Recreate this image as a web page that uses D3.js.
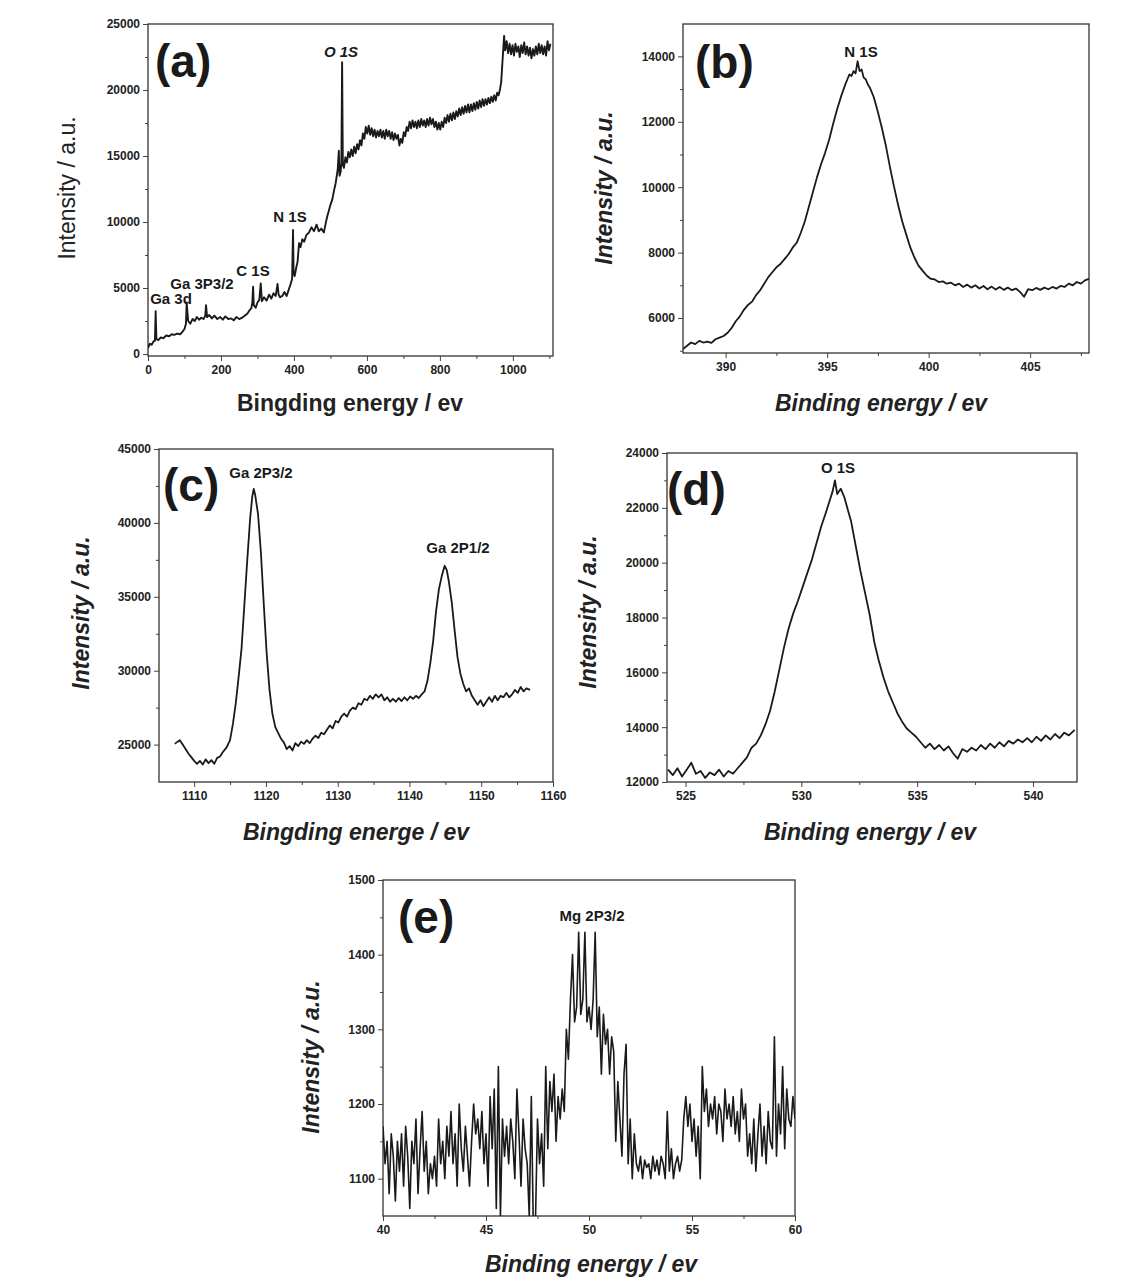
<!DOCTYPE html>
<html>
<head>
<meta charset="utf-8">
<script src="https://cdn.jsdelivr.net/npm/d3@7"></script>
<style>
body { margin: 0; background: #fff; }
svg text { font-family: "Liberation Sans", Arial, sans-serif; }
</style>
</head>
<body>
<svg width="1135" height="1277"></svg>
<script>
// ---- (a) survey spectrum
var aX = [0,5,10,15,19,21,23,28,35,42,50,58,65,72,80,88,95,100,104,106,110,116,122,128,134,140,146,152,157,159,162,168,175,182,190,198,205,212,220,228,235,242,250,258,265,272,278,283,286,288,290,295,300,305,309,312,318,325,332,338,344,350,355,358,362,368,374,380,386,391,395,397.5,399,402,406,410,414,418,423,428,434,441,448,455,462,468,475,482,487,491,496,500,505,510,514,518,520,523,525,528,530,532,534,537,
  541,545,549,553,557,561,565,569,573,577,581,585,589,593,597,601,605,609,613,617,621,625,629,633,637,641,645,649,653,657,661,665,669,673,677,681,685,689,693,697,701,705,709,713,717,721,725,729,733,737,741,745,749,753,757,761,765,769,773,777,781,785,789,793,797,801,805,809,813,817,821,825,829,833,837,841,845,849,853,857,861,865,869,873,877,881,885,889,893,897,901,905,909,913,917,921,925,929,933,937,941,945,949,953,957,961,965,968,970,973,976,
  979,983,987,991,995,999,1003,1007,1011,1015,1019,1023,1027,1031,1035,1039,1043,1047,1051,1055,1059,1063,1067,1071,1075,1079,1083,1087,1091,1095,1099,1103];
var aY = [450,780,700,950,1000,3250,1150,1050,1250,1200,1400,1350,1500,1450,1550,1500,1700,1900,2300,3900,2500,2300,2650,2500,2800,2600,2750,2650,2900,3700,2800,2950,2700,2900,2650,2800,2600,2850,2650,2700,2550,2800,2650,2750,2900,3050,3300,3450,3900,5100,3700,3500,3900,4100,5350,4000,4300,4050,4500,4200,4600,4400,5300,4500,4300,4400,4700,4400,4900,5300,5700,9400,6200,5900,6500,7000,8400,8100,8700,8500,9000,9200,9600,9300,9800,9300,9500,9200,9900,10400,10900,11300,11700,12400,12900,13600,14000,15400,13500,13800,14500,22100,14400,14100,
  14900,14500,15300,14900,15500,15000,15700,15200,15900,15500,16200,15800,16700,16300,17200,16700,17300,16600,17100,16500,17000,16400,16900,16500,17000,16400,16900,16300,17000,16500,16900,16300,16800,16200,16700,16300,16600,15800,16300,16000,16800,16500,17200,16900,17600,17100,17700,17200,17600,17100,17700,17200,17800,17300,17700,17200,17800,17300,17900,17400,17800,17200,17600,17000,17500,17000,17600,17200,17900,17500,18100,17600,18200,17700,18300,17800,18400,18000,18600,18100,18700,18200,18800,18300,18900,18300,18900,18400,19000,18500,19100,18600,19200,18700,19300,18800,19300,18900,19400,19000,19500,19100,19600,19200,19800,19600,20100,20600,21500,22800,24100,
  23000,23700,22800,23500,22700,23400,22600,23500,22900,23300,22500,23400,22800,23600,22700,23300,22600,23200,22400,23100,22600,23300,22700,23500,22800,23400,22700,23300,22600,23700,23000,23500];
var aXTicks = [0,200,400,600,800,1000], aXMinor = [100,300,500,700,900,1100];
var aYTicks = [0,5000,10000,15000,20000,25000], aYMinor = [2500,7500,12500,17500,22500];
var aPeaks = ["O 1S","N 1S","C 1S","Ga 3P3/2","Ga 3d"];

// ---- (b) N 1s
var bX = [387.9,388.1,388.3,388.5,388.7,388.9,389.1,389.3,389.5,389.7,389.9,390.1,390.3,390.5,390.7,390.9,391.1,391.3,391.5,391.7,391.9,392.1,392.3,392.5,392.7,392.9,393.1,393.3,393.5,393.7,393.9,394.1,394.3,394.5,394.7,394.9,395.1,395.3,395.5,395.7,395.9,396.0,396.1,396.2,396.3,396.4,396.5,396.6,396.7,396.8,396.9,397.0,397.1,397.3,397.5,397.7,397.9,398.1,398.3,398.5,398.7,398.9,399.1,399.3,399.5,399.7,399.9,400.1,400.3,400.5,400.7,400.9,401.1,401.3,401.5,401.7,401.9,402.1,402.3,402.5,402.7,402.9,403.1,403.3,403.5,403.7,403.9,404.1,404.3,404.5,404.7,404.9,405.1,405.3,405.5,405.7,405.9,406.1,406.3,406.5,406.7,406.9,407.1,407.3,407.5,407.7,407.9];
var bY = [5050,5150,5250,5200,5300,5250,5280,5240,5350,5400,5450,5550,5700,5900,6050,6250,6400,6500,6700,6850,7050,7250,7400,7550,7650,7800,7950,8150,8300,8600,8950,9400,9850,10300,10700,11050,11450,11950,12400,12800,13150,13300,13450,13400,13550,13480,13850,13550,13600,13350,13300,13150,13050,12750,12300,11800,11250,10600,10000,9450,8950,8550,8150,7850,7600,7450,7300,7200,7180,7100,7120,7050,7080,7000,7050,6950,7020,6930,7000,6900,6980,6880,6960,6870,6950,6860,6930,6850,6900,6800,6650,6880,6850,6920,6860,6930,6880,6950,6900,6980,6950,7050,7000,7100,7050,7150,7200];
var bXTicks = [390,395,400,405], bXMinor = [392.5,397.5,402.5,407.5];
var bYTicks = [6000,8000,10000,12000,14000], bYMinor = [5000,7000,9000,11000,13000];
var bPeaks = ["N 1S"];

// ---- (c) Ga 2p
var cX = [1107.3,1107.7,1108.0,1108.4,1108.8,1109.2,1109.6,1110.0,1110.4,1110.8,1111.2,1111.6,1112.0,1112.4,1112.8,1113.2,1113.6,1114.0,1114.5,1115.0,1115.4,1115.8,1116.2,1116.6,1117.0,1117.4,1117.8,1118.1,1118.3,1118.5,1118.9,1119.3,1119.7,1120.1,1120.5,1120.9,1121.3,1121.7,1122.1,1122.5,1122.9,1123.3,1123.7,1124.1,1124.5,1124.9,1125.3,1125.7,1126.1,1126.5,1126.9,1127.3,1127.7,1128.1,1128.5,1128.9,1129.3,1129.7,1130.1,1130.5,1130.9,1131.3,1131.7,1132.1,1132.5,1132.9,1133.3,1133.7,1134.1,1134.5,1134.9,1135.3,1135.7,1136.1,1136.5,1136.9,1137.3,1137.7,1138.1,1138.5,1138.9,1139.3,1139.7,1140.1,1140.5,1140.9,1141.3,1141.7,1142.1,1142.5,1142.9,1143.3,1143.7,1144.1,1144.5,1144.9,1145.2,1145.5,1145.9,1146.3,1146.7,1147.1,1147.5,1147.9,1148.3,1148.7,1149.1,1149.5,1149.9,1150.3,1150.7,1151.1,1151.5,1151.9,1152.3,1152.7,1153.1,1153.5,1153.9,1154.3,1154.7,1155.1,1155.5,1155.9,1156.3,1156.8];
var cY = [25050,25200,25300,25000,24700,24400,24150,23900,23700,23900,23650,24000,23750,23950,23700,24100,24200,24500,24800,25300,26400,27800,29600,31500,34500,37500,40300,41800,42300,41900,40600,38000,34500,31200,28700,27100,26200,25800,25400,25150,24700,24900,24600,25100,24900,25200,25050,25300,25100,25400,25600,25450,25800,25700,26000,26300,26100,26600,26500,26900,27100,26900,27300,27500,27400,27800,27700,28100,28000,28300,28100,28400,28200,28400,28000,28200,27900,28100,27900,28150,27950,28200,28000,28250,28100,28300,28150,28400,28600,29300,30500,32000,34000,35500,36400,37100,36800,36000,34600,32700,30900,29800,29100,28600,28800,28300,28000,27700,28000,27600,27900,28200,27900,28300,28000,28300,28200,28500,28200,28400,28700,28500,28900,28600,28800,28700];
var cXTicks = [1110,1120,1130,1140,1150,1160], cXMinor = [1115,1125,1135,1145,1155];
var cYTicks = [25000,30000,35000,40000,45000], cYMinor = [27500,32500,37500,42500];
var cPeaks = ["Ga 2P3/2","Ga 2P1/2"];

// ---- (d) O 1s
var dX = [524.25,524.45,524.65,524.85,525.05,525.25,525.45,525.65,525.85,526.05,526.25,526.45,526.65,526.85,527.05,527.25,527.45,527.65,527.85,528.05,528.25,528.45,528.65,528.85,529.05,529.25,529.45,529.65,529.85,530.05,530.25,530.45,530.65,530.85,531.05,531.2,531.35,531.45,531.55,531.7,531.85,532.0,532.15,532.35,532.55,532.75,532.95,533.15,533.35,533.55,533.75,533.95,534.15,534.35,534.55,534.75,534.95,535.15,535.35,535.55,535.75,535.95,536.15,536.35,536.55,536.75,536.95,537.15,537.35,537.55,537.75,537.95,538.15,538.35,538.55,538.75,538.95,539.15,539.35,539.55,539.75,539.95,540.15,540.35,540.55,540.75,540.95,541.15,541.35,541.55,541.8];
var dY = [12450,12250,12500,12200,12450,12700,12300,12400,12150,12350,12250,12450,12200,12400,12300,12500,12700,12900,13250,13400,13700,14100,14600,15300,16100,16900,17600,18150,18600,19100,19600,20100,20700,21300,21800,22200,22600,23000,22500,22700,22400,21950,21500,20600,19700,18900,18100,17100,16400,15800,15300,14900,14500,14200,13950,13800,13650,13450,13250,13400,13200,13350,13150,13300,13050,12850,13200,13100,13250,13150,13350,13200,13400,13250,13450,13300,13500,13400,13550,13450,13600,13450,13650,13500,13700,13550,13750,13600,13800,13700,13900];
var dXTicks = [525,530,535,540], dXMinor = [527.5,532.5,537.5];
var dYTicks = [12000,14000,16000,18000,20000,22000,24000], dYMinor = [13000,15000,17000,19000,21000,23000];
var dPeaks = ["O 1S"];

// ---- (e) Mg 2p
var eX = [40.0,40.1,40.2,40.3,40.4,40.5,40.6,40.7,40.8,40.9,41.0,41.1,41.2,41.3,41.4,41.5,41.6,41.7,41.8,41.9,42.0,42.1,42.2,42.3,42.4,42.5,42.6,42.7,42.8,42.9,43.0,43.1,43.2,43.3,43.4,43.5,43.6,43.7,43.8,43.9,44.0,44.1,44.2,44.3,44.4,44.5,44.6,44.7,44.8,44.9,45.0,45.1,45.2,45.3,45.4,45.5,45.6,45.7,45.8,45.9,46.0,46.1,46.2,46.3,46.4,46.5,46.6,46.7,46.8,46.9,47.0,47.1,47.2,47.3,47.4,47.5,47.6,47.7,47.8,47.9,48.0,48.1,48.2,48.3,48.4,48.5,48.6,48.7,48.8,48.9,49.0,49.1,49.2,49.3,49.4,49.5,49.6,49.7,49.8,49.9,50.0,50.1,50.2,50.3,50.4,50.5,50.6,50.7,50.8,50.9,51.0,51.1,51.2,51.3,51.4,51.5,51.6,51.7,51.8,51.9,52.0,52.1,52.2,52.3,52.4,52.5,52.6,52.7,52.8,52.9,53.0,53.1,53.2,53.3,53.4,53.5,53.6,53.7,53.8,53.9,54.0,54.1,54.2,54.3,54.4,54.5,54.6,54.7,54.8,54.9,55.0,55.1,55.2,55.3,55.4,55.5,55.6,55.7,55.8,55.9,56.0,56.1,56.2,56.3,56.4,56.5,56.6,56.7,56.8,56.9,57.0,57.1,57.2,57.3,57.4,57.5,57.6,57.7,57.8,57.9,58.0,58.1,58.2,58.3,58.4,58.5,58.6,58.7,58.8,58.9,59.0,59.1,59.2,59.3,59.4,59.5,59.6,59.7,59.8,59.9,60.0];
var eY = [1170,1120,1150,1080,1160,1130,1070,1150,1110,1160,
          1090,1170,1130,1060,1150,1120,1180,1080,1140,1190,
          1110,1150,1080,1120,1100,1130,1090,1180,1120,1150,
          1100,1170,1130,1190,1120,1160,1090,1200,1140,1110,
          1170,1130,1090,1150,1200,1160,1180,1140,1190,1120,
          1160,1090,1210,1140,1220,1060,1250,1050,1180,1130,
          1170,1120,1180,1150,1100,1220,1160,1090,1180,1140,
          1120,1050,1210,1030,1040,1180,1120,1160,1090,1250,
          1140,1230,1190,1240,1150,1210,1180,1220,1190,1300,
          1260,1340,1400,1310,1330,1430,1320,1340,1430,1310,
          1330,1300,1340,1430,1290,1330,1240,1320,1280,1300,
          1240,1290,1270,1150,1230,1180,1130,1240,1280,1120,
          1180,1100,1160,1120,1110,1130,1100,1125,1115,1120,
          1100,1130,1110,1125,1105,1130,1120,1100,1190,1110,
          1140,1100,1120,1130,1110,1125,1180,1210,1170,1200,
          1150,1180,1130,1170,1100,1250,1190,1220,1170,1200,
          1180,1210,1160,1200,1190,1150,1220,1180,1200,1170,
          1210,1160,1190,1150,1220,1180,1200,1130,1160,1120,
          1180,1110,1160,1200,1130,1170,1120,1190,1150,1140,
          1290,1130,1200,1160,1250,1140,1220,1180,1170,1210,
          1180];
var eXTicks = [40,45,50,55,60], eXMinor = [42.5,47.5,52.5,57.5];
var eYTicks = [1100,1200,1300,1400,1500], eYMinor = [1150,1250,1350,1450];
var ePeaks = ["Mg 2P3/2"];

// ---- layout (pixel boxes, titles, label anchors)
var panels = [
  { x: aX, y: aY, box: [148, 24, 553, 356], xd: [0, 1110], yd: [-150, 25000],
    xt: aXTicks, xm: aXMinor, yt: aYTicks, ym: aYMinor, italic: false, sw: 1.9,
    letter: "(a)", letterPos: [155, 77],
    xTitle: "Bingding energy / ev", xTitlePos: [350, 411],
    yTitle: "Intensity / a.u.", yTitlePos: [75, 188],
    peaks: aPeaks, peakPos: [[341, 57, true], [290, 222], [253, 276], [202, 289], [171, 304]] },
  { x: bX, y: bY, box: [683, 24, 1089, 353], xd: [387.9, 407.9], yd: [4930, 14990],
    xt: bXTicks, xm: bXMinor, yt: bYTicks, ym: bYMinor, italic: true, sw: 1.8,
    letter: "(b)", letterPos: [695, 78],
    xTitle: "Binding energy / ev", xTitlePos: [881, 411],
    yTitle: "Intensity / a.u.", yTitlePos: [612, 188],
    peaks: bPeaks, peakPos: [[861, 57]] },
  { x: cX, y: cY, box: [159, 449, 553, 782], xd: [1105.1, 1160], yd: [22470, 45000],
    xt: cXTicks, xm: cXMinor, yt: cYTicks, ym: cYMinor, italic: true, sw: 1.8,
    letter: "(c)", letterPos: [163, 501],
    xTitle: "Bingding energe / ev", xTitlePos: [356, 840],
    yTitle: "Intensity / a.u.", yTitlePos: [89, 613],
    peaks: cPeaks, peakPos: [[261, 478], [458, 553]] },
  { x: dX, y: dY, box: [667, 453, 1077, 782], xd: [524.2, 541.9], yd: [12000, 24000],
    xt: dXTicks, xm: dXMinor, yt: dYTicks, ym: dYMinor, italic: true, sw: 1.8,
    letter: "(d)", letterPos: [667, 505],
    xTitle: "Binding energy / ev", xTitlePos: [870, 840],
    yTitle: "Intensity / a.u.", yTitlePos: [596, 612],
    peaks: dPeaks, peakPos: [[838, 473]] },
  { x: eX, y: eY, box: [383, 880, 795, 1216], xd: [40, 60], yd: [1050, 1500],
    xt: eXTicks, xm: eXMinor, yt: eYTicks, ym: eYMinor, italic: true, sw: 1.6,
    letter: "(e)", letterPos: [398, 933],
    xTitle: "Binding energy / ev", xTitlePos: [591, 1272],
    yTitle: "Intensity / a.u.", yTitlePos: [319, 1057],
    peaks: ePeaks, peakPos: [[592, 921]] }
];

var svg = d3.select("svg");
var ink = "#1a1a1a";

panels.forEach(function (p, i) {
  var L = p.box[0], T = p.box[1], R = p.box[2], B = p.box[3];
  var x = d3.scaleLinear().domain(p.xd).range([L, R]);
  var y = d3.scaleLinear().domain(p.yd).range([B, T]);
  var g = svg.append("g");

  g.append("clipPath").attr("id", "clip" + i)
    .append("rect").attr("x", L).attr("y", T).attr("width", R - L).attr("height", B - T);

  // minor ticks
  g.append("g").attr("transform", "translate(0," + B + ")")
    .call(d3.axisBottom(x).tickValues(p.xm.filter(function (v) { return v >= p.xd[0] && v <= p.xd[1]; }))
      .tickSize(3).tickSizeOuter(0).tickFormat(""));
  g.append("g").attr("transform", "translate(" + L + ",0)")
    .call(d3.axisLeft(y).tickValues(p.ym.filter(function (v) { return v >= p.yd[0] && v <= p.yd[1]; }))
      .tickSize(3).tickSizeOuter(0).tickFormat(""));

  // major ticks + labels
  g.append("g").attr("transform", "translate(0," + B + ")")
    .call(d3.axisBottom(x).tickValues(p.xt).tickSize(5).tickSizeOuter(0).tickPadding(4).tickFormat(d3.format("d")));
  g.append("g").attr("transform", "translate(" + L + ",0)")
    .call(d3.axisLeft(y).tickValues(p.yt).tickSize(5).tickSizeOuter(0).tickPadding(3).tickFormat(d3.format("d")));

  g.selectAll(".domain").remove();
  g.selectAll(".tick line").attr("stroke", "#444").attr("stroke-width", 1);
  g.selectAll(".tick text").attr("fill", "#222").attr("font-size", 12).attr("font-weight", "bold")
    .attr("font-family", "'Liberation Sans', Arial, sans-serif");

  // frame
  g.append("rect").attr("x", L).attr("y", T).attr("width", R - L).attr("height", B - T)
    .attr("fill", "none").attr("stroke", "#333").attr("stroke-width", 1.3);

  // spectrum
  var pts = p.x.map(function (v, k) { return [v, p.y[k]]; });
  g.append("path").datum(pts)
    .attr("clip-path", "url(#clip" + i + ")")
    .attr("fill", "none").attr("stroke", ink).attr("stroke-width", p.sw)
    .attr("stroke-linejoin", "round")
    .attr("d", d3.line().x(function (d) { return x(d[0]); }).y(function (d) { return y(d[1]); }));

  // panel letter
  g.append("text").attr("x", p.letterPos[0]).attr("y", p.letterPos[1])
    .attr("font-size", 46).attr("font-weight", "bold").attr("fill", ink).text(p.letter);

  // peak labels
  p.peaks.forEach(function (name, k) {
    var pp = p.peakPos[k];
    g.append("text").attr("x", pp[0]).attr("y", pp[1]).attr("text-anchor", "middle")
      .attr("font-size", 15).attr("font-weight", "bold").attr("fill", ink)
      .attr("font-style", pp[2] ? "italic" : "normal").text(name);
  });

  // axis titles
  g.append("text").attr("x", p.xTitlePos[0]).attr("y", p.xTitlePos[1]).attr("text-anchor", "middle")
    .attr("font-size", 23).attr("font-weight", "bold").attr("fill", "#222")
    .attr("font-style", p.italic ? "italic" : "normal").text(p.xTitle);
  g.append("text").attr("transform", "translate(" + p.yTitlePos[0] + "," + p.yTitlePos[1] + ") rotate(-90)")
    .attr("text-anchor", "middle")
    .attr("font-size", 23).attr("font-weight", p.italic ? "bold" : "normal").attr("fill", "#222")
    .attr("font-style", p.italic ? "italic" : "normal").text(p.yTitle);
});
</script>
</body>
</html>
